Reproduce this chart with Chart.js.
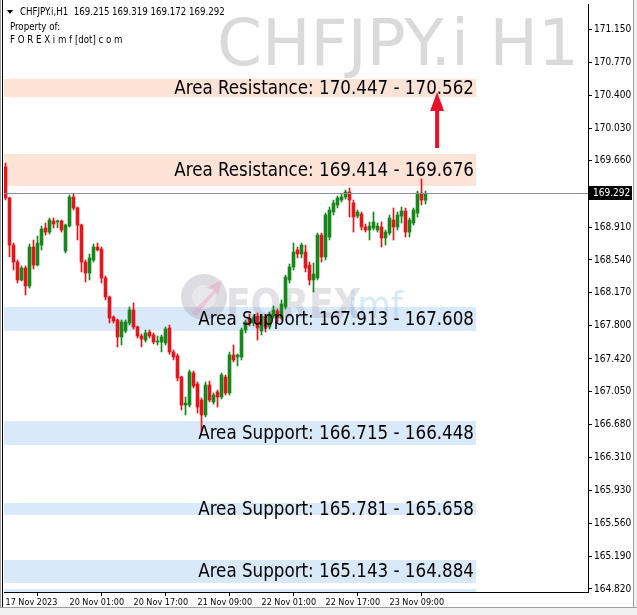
<!DOCTYPE html>
<html>
<head>
<meta charset="utf-8">
<script src="https://cdn.jsdelivr.net/npm/chart.js@4.4.0/dist/chart.umd.min.js"></script>
<style>
html, body { margin: 0; padding: 0; background: #fff; }
canvas { display: block; }
</style>
</head>
<body>
<canvas id="myChart" width="637" height="615"></canvas>
<script>
// H1 candles, first bar = 17 Nov 09:00
var opens = [169.590,169.240,168.708,168.516,168.313,168.449,168.245,168.686,168.482,168.708,
  168.901,168.855,168.980,168.969,168.980,168.641,168.923,169.251,169.127,168.934,
  168.516,168.392,168.539,168.686,168.663,168.336,168.121,167.895,167.861,167.669,
  167.736,167.827,167.974,167.782,167.680,167.634,167.725,167.691,167.612,167.612,
  167.601,167.770,167.499,167.454,167.216,166.900,166.900,167.262,167.137,166.956,
  166.787,167.126,166.934,167.047,166.990,167.216,167.036,167.465,167.443,167.443,
  167.747,167.883,167.827,167.906,167.736,167.895,167.782,167.906,167.963,167.883,
  168.008,168.313,168.460,168.652,168.607,168.629,168.482,168.313,168.336,168.821,
  168.573,168.799,169.082,169.161,169.217,169.251,169.308,169.183,169.036,169.059,
  168.912,168.878,168.901,168.878,168.912,168.788,168.844,168.991,168.912,169.036,
  169.093,168.855,168.957,169.070,169.296,169.215];
var highs = [169.636,169.250,168.731,168.539,168.471,168.471,168.720,168.765,168.810,168.923,
  168.957,169.014,169.014,168.991,168.991,168.946,169.274,169.285,169.138,168.946,
  168.539,168.607,168.720,168.731,168.686,168.358,168.132,167.906,167.872,167.861,
  167.861,168.008,168.053,167.793,167.702,167.747,167.747,167.714,167.680,167.691,
  167.782,167.804,167.522,167.477,167.227,166.990,167.296,167.284,167.160,166.979,
  167.160,167.171,167.036,167.069,167.262,167.239,167.499,167.578,167.477,167.770,
  167.861,167.928,167.917,167.940,167.928,167.917,167.951,168.019,167.985,168.087,
  168.369,168.494,168.731,168.686,168.731,168.708,168.516,168.505,168.844,168.844,
  169.070,169.138,169.217,169.262,169.285,169.330,169.353,169.217,169.104,169.082,
  168.946,168.969,169.082,168.957,168.969,168.878,169.048,169.127,169.082,169.138,
  169.127,169.014,169.127,169.319,169.455,169.319];
var lows = [169.217,168.573,168.426,168.279,168.302,168.144,168.222,168.437,168.471,168.652,
  168.821,168.833,168.901,168.901,168.855,168.618,168.912,169.104,168.765,168.404,
  168.290,168.313,168.516,168.641,168.279,168.087,167.827,167.827,167.556,167.578,
  167.714,167.804,167.759,167.657,167.556,167.612,167.657,167.590,167.578,167.499,
  167.578,167.474,167.409,167.171,166.843,166.787,166.877,167.092,166.809,166.595,
  166.764,166.934,166.911,166.877,166.968,167.013,167.013,167.386,167.341,167.409,
  167.714,167.793,167.793,167.634,167.691,167.725,167.759,167.883,167.838,167.861,
  167.985,168.279,168.426,168.562,168.562,168.404,168.256,168.177,168.313,168.516,
  168.539,168.765,169.048,169.127,169.195,169.228,169.025,168.855,169.014,168.878,
  168.855,168.765,168.878,168.855,168.686,168.708,168.821,168.765,168.878,168.957,
  168.799,168.799,168.934,169.025,169.161,169.172];
var closes = [169.240,168.708,168.516,168.313,168.449,168.245,168.686,168.482,168.731,168.889,
  168.855,168.991,168.946,168.980,168.878,168.934,169.251,169.127,168.934,168.516,
  168.392,168.562,168.686,168.652,168.336,168.121,167.883,167.850,167.669,167.838,
  167.838,167.974,167.782,167.680,167.646,167.714,167.680,167.612,167.623,167.669,
  167.759,167.499,167.443,167.205,166.900,166.922,167.273,167.114,166.877,166.787,
  167.126,166.956,167.013,166.990,167.239,167.036,167.465,167.409,167.465,167.747,
  167.838,167.827,167.883,167.770,167.906,167.782,167.928,167.974,167.883,168.042,
  168.347,168.460,168.629,168.607,168.708,168.449,168.313,168.381,168.821,168.573,
  169.048,169.104,169.183,169.240,169.251,169.308,169.217,169.025,169.082,168.912,
  168.878,168.923,168.969,168.923,168.788,168.855,169.014,168.912,169.048,169.093,
  168.855,168.991,169.104,169.296,169.217,169.292];

// zones drawn on the chart
var zoneTop    = [170.585, 169.737, 168.007, 166.719, 165.790, 165.147, 164.820];
var zoneBottom = [170.381, 169.375, 167.736, 166.447, 165.660, 164.890, 164.780];
var zoneKind   = ['R', 'R', 'S', 'S', 'S', 'S', 'S'];
var zoneText   = ['Area Resistance: 170.447 - 170.562', 'Area Resistance: 169.414 - 169.676',
  'Area Support: 167.913 - 167.608', 'Area Support: 166.715 - 166.448',
  'Area Support: 165.781 - 165.658', 'Area Support: 165.143 - 164.884', ''];

// axis ticks
var yTickValues = [171.150, 170.770, 170.400, 170.030, 169.660, 168.910, 168.540, 168.170,
  167.800, 167.420, 167.050, 166.680, 166.310, 165.930, 165.560, 165.190, 164.820];
var xTickBars   = [0, 16, 32, 48, 64, 80, 96];
var xTickLabels = ['17 Nov 2023', '20 Nov 01:00', '20 Nov 17:00', '21 Nov 09:00',
  '22 Nov 01:00', '22 Nov 17:00', '23 Nov 09:00'];

var lastPrice = 169.292;
var arrowBar = 107.9, arrowFrom = 169.805, arrowTo = 170.438;
var zoneEndBar = 117.6;

var RED = '#e3161b', GREEN = '#17871c';

var wicks = [], bodies = [], colors = [];
for (var i = 0; i < opens.length; i++) {
  wicks.push({ x: i, y: [lows[i], highs[i]] });
  bodies.push({ x: i, y: [opens[i], closes[i]] });
  colors.push(closes[i] >= opens[i] ? GREEN : RED);
}

var FONT_SMALL = '"DejaVu Sans Condensed", "DejaVu Sans", sans-serif';

var mt4Plugin = {
  id: 'mt4',
  beforeDatasetsDraw: function (chart) {
    var ctx = chart.ctx, a = chart.chartArea;
    var xs = chart.scales.x, ys = chart.scales.y;
    ctx.save();
    ctx.beginPath();
    ctx.rect(a.left, a.top, a.right - a.left, a.bottom - a.top);
    ctx.clip();

    // symbol watermark
    ctx.fillStyle = '#dadada';
    ctx.font = '64.5px "DejaVu Sans"';
    ctx.textAlign = 'right';
    ctx.textBaseline = 'alphabetic';
    ctx.fillText('CHFJPY.i H1', 579, 65);

    // zones
    var xEnd = xs.getPixelForValue(zoneEndBar);
    for (var k = 0; k < zoneTop.length; k++) {
      var y1 = Math.round(ys.getPixelForValue(zoneTop[k]));
      var y2 = Math.round(ys.getPixelForValue(zoneBottom[k]));
      ctx.fillStyle = zoneKind[k] === 'R' ? '#fde3d6' : '#d9e9f9';
      ctx.fillRect(a.left, y1, Math.round(xEnd) - a.left, y2 - y1);
    }

    // logo watermark
    ctx.globalAlpha = 0.35;
    ctx.fillStyle = '#9a9aa8';
    ctx.beginPath();
    ctx.arc(204, 297, 23, 0, Math.PI * 2);
    ctx.fill();
    ctx.fillStyle = '#ffffff';
    ctx.beginPath();
    ctx.arc(204, 297, 12, 0, Math.PI * 2);
    ctx.fill();
    ctx.fillStyle = '#f08cb0';
    ctx.beginPath();
    ctx.moveTo(192, 312); ctx.lineTo(214, 290); ctx.lineTo(206, 288);
    ctx.lineTo(222, 280); ctx.lineTo(218, 296); ctx.lineTo(216, 292);
    ctx.lineTo(196, 316); ctx.closePath();
    ctx.fill();
    ctx.font = 'bold 40px "DejaVu Sans Condensed", "DejaVu Sans"';
    ctx.textAlign = 'left';
    ctx.fillStyle = '#a9a9b8';
    ctx.fillText('FOREX', 226, 318);
    ctx.fillStyle = '#8cc0ec';
    ctx.font = '38px "DejaVu Sans Condensed", "DejaVu Sans"';
    ctx.fillText('imf', 348, 318);
    ctx.globalAlpha = 1;
    ctx.restore();
  },
  afterDatasetsDraw: function (chart) {
    var ctx = chart.ctx, a = chart.chartArea;
    var xs = chart.scales.x, ys = chart.scales.y;
    ctx.save();

    // zone captions
    ctx.fillStyle = '#000';
    ctx.font = '18.6px ' + FONT_SMALL;
    ctx.textAlign = 'right';
    ctx.textBaseline = 'middle';
    for (var k = 0; k < zoneText.length; k++) {
      if (!zoneText[k]) continue;
      var ym = ys.getPixelForValue((zoneTop[k] + zoneBottom[k]) / 2);
      ctx.fillText(zoneText[k], 474, ym + 1);
    }

    // red arrow
    var ax = xs.getPixelForValue(arrowBar);
    var ay0 = ys.getPixelForValue(arrowFrom), ay1 = ys.getPixelForValue(arrowTo);
    ctx.strokeStyle = '#e8102a';
    ctx.fillStyle = '#e8102a';
    ctx.lineWidth = 4;
    ctx.beginPath();
    ctx.moveTo(ax, ay0);
    ctx.lineTo(ax, ay1 + 14);
    ctx.stroke();
    ctx.beginPath();
    ctx.moveTo(ax, ay1);
    ctx.lineTo(ax - 7, ay1 + 19);
    ctx.lineTo(ax + 7, ay1 + 19);
    ctx.closePath();
    ctx.fill();

    // last price line
    var py = Math.round(ys.getPixelForValue(lastPrice)) + 0.5;
    ctx.strokeStyle = '#8a8f96';
    ctx.lineWidth = 1;
    ctx.beginPath();
    ctx.moveTo(a.left, py);
    ctx.lineTo(a.right, py);
    ctx.stroke();
    ctx.fillStyle = '#000';
    ctx.fillRect(a.right + 1, py - 7.5, 43, 14);
    ctx.fillStyle = '#fff';
    ctx.font = '10px ' + FONT_SMALL;
    ctx.textAlign = 'left';
    ctx.fillText(lastPrice.toFixed(3), a.right + 5, py);

    // header
    ctx.fillStyle = '#000';
    ctx.textBaseline = 'middle';
    ctx.font = '9.6px ' + FONT_SMALL;
    ctx.beginPath();
    ctx.moveTo(7, 10); ctx.lineTo(13, 10); ctx.lineTo(10, 14); ctx.closePath();
    ctx.fill();
    ctx.fillText('CHFJPY.i,H1  169.215 169.319 169.172 169.292', 20, 12);
    ctx.fillText('Property of:', 10, 27);
    ctx.fillText('F O R E X i m f [dot] c o m', 10, 40);
    ctx.restore();
  },
  afterDraw: function (chart) {
    var ctx = chart.ctx;
    ctx.save();
    ctx.fillStyle = '#000';
    ctx.fillRect(2, 0, 1, 607);
    ctx.fillStyle = '#a0a0a0';
    ctx.fillRect(0, 0, 1, 615);
    ctx.fillStyle = '#f0f0f0';
    ctx.fillRect(0, 607, 637, 8);
    ctx.fillRect(634, 0, 3, 615);
    ctx.fillStyle = '#a0a0a0';
    ctx.fillRect(0, 607, 637, 1);
    ctx.fillRect(633, 0, 1, 608);
    ctx.restore();
  }
};

var chartCanvas = document.getElementById('myChart');
var candleChart = new Chart(chartCanvas, {
  type: 'bar',
  data: {
    datasets: [
      { label: 'wick', data: wicks, backgroundColor: colors, barThickness: 1, grouped: false, order: 2 },
      { label: 'body', data: bodies, backgroundColor: colors, barThickness: 3, minBarLength: 1, grouped: false, order: 1 }
    ]
  },
  options: {
    responsive: false,
    animation: false,
    devicePixelRatio: 1,
    layout: { padding: { top: 4, left: 4, right: 0, bottom: 0 } },
    plugins: { legend: { display: false }, tooltip: { enabled: false } },
    scales: {
      x: {
        type: 'linear',
        min: -0.375,
        max: 145.625,
        offset: false,
        grid: { drawOnChartArea: false, drawTicks: true, tickLength: 4, color: '#000' },
        border: { display: true, color: '#000' },
        ticks: {
          align: 'start',
          maxRotation: 0,
          autoSkip: false,
          padding: 1,
          color: '#000',
          font: { family: FONT_SMALL, size: 9 },
          callback: function (v) {
            var j = xTickBars.indexOf(v);
            return j >= 0 ? xTickLabels[j] : '';
          }
        },
        afterBuildTicks: function (scale) {
          scale.ticks = xTickBars.map(function (b) { return { value: b }; });
        },
        afterFit: function (scale) {
          scale.height = 23;
          scale.paddingLeft = 0;
          scale.paddingRight = 0;
        }
      },
      y: {
        type: 'linear',
        position: 'right',
        min: 164.786,
        max: 171.433,
        grid: { drawOnChartArea: false, drawTicks: true, tickLength: 4, color: '#000' },
        border: { display: true, color: '#000' },
        ticks: {
          padding: 2,
          color: '#000',
          font: { family: FONT_SMALL, size: 10 },
          callback: function (v) { return v.toFixed(3); }
        },
        afterBuildTicks: function (scale) {
          scale.ticks = yTickValues.map(function (v) { return { value: v }; });
        },
        afterFit: function (scale) {
          scale.width = 49;
          scale.paddingTop = 0;
          scale.paddingBottom = 0;
        }
      }
    }
  },
  plugins: [mt4Plugin]
});
</script>
</body>
</html>
